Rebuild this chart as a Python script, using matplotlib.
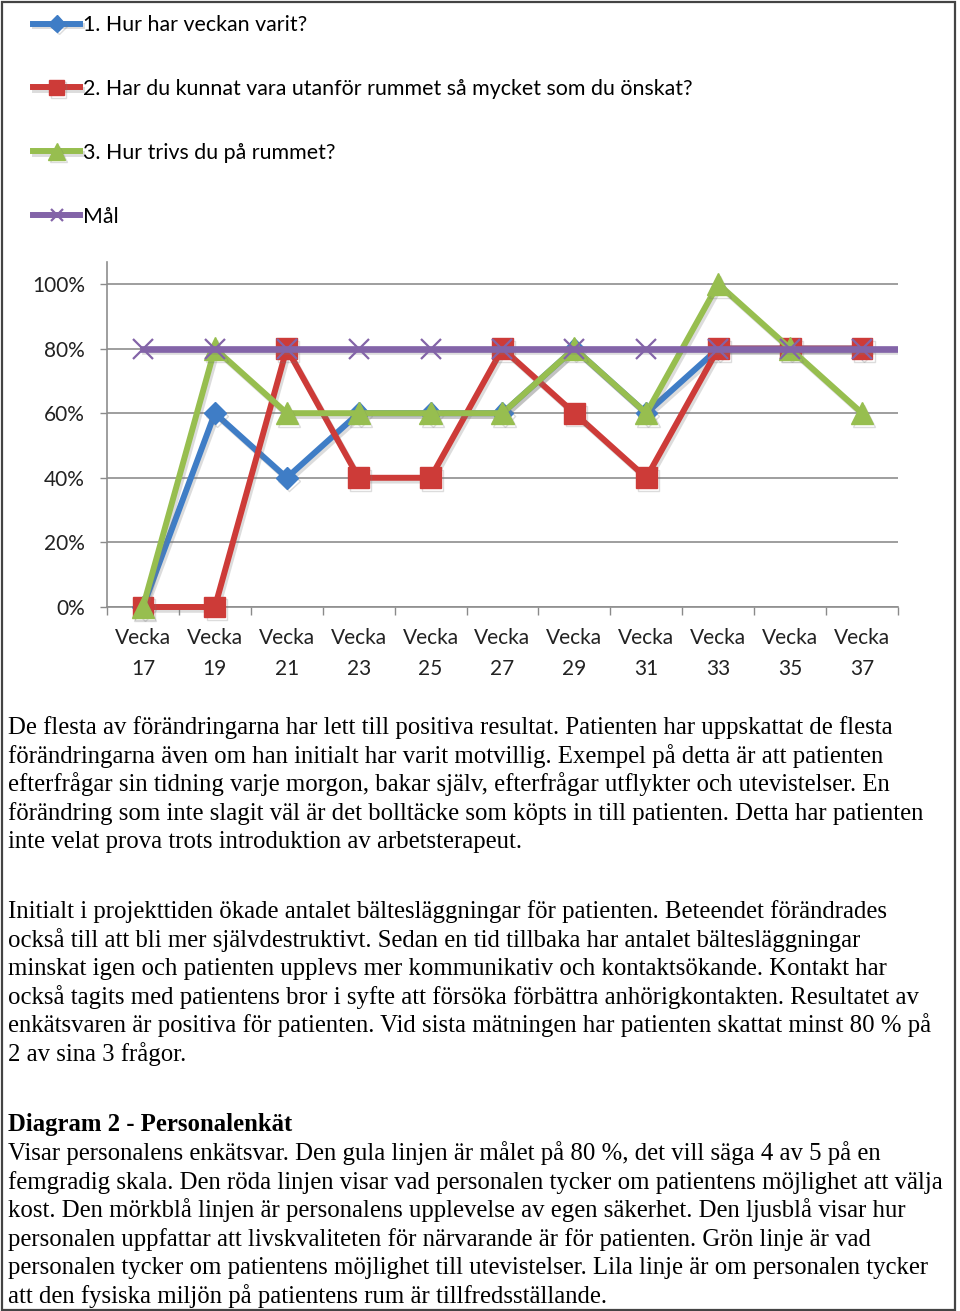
import numpy as np
import matplotlib
matplotlib.use("Agg")
import matplotlib.pyplot as plt
import matplotlib.patheffects as pe
from matplotlib.patches import Rectangle

# --- chart data -------------------------------------------------------------
weeks = ["Vecka\n17", "Vecka\n19", "Vecka\n21", "Vecka\n23", "Vecka\n25", "Vecka\n27",
         "Vecka\n29", "Vecka\n31", "Vecka\n33", "Vecka\n35", "Vecka\n37"]
q1_veckan = [0.0, 0.6, 0.4, 0.6, 0.6, 0.6, 0.8, 0.6, 0.8, 0.8, 0.8]
q2_utanfor = [0.0, 0.0, 0.8, 0.4, 0.4, 0.8, 0.6, 0.4, 0.8, 0.8, 0.8]
q3_trivs = [0.0, 0.8, 0.6, 0.6, 0.6, 0.6, 0.8, 0.6, 1.0, 0.8, 0.6]
mal = [0.8] * 11
labels = ["1. Hur har veckan varit?",
          "2. Har du kunnat vara utanför rummet så mycket som du önskat?",
          "3. Hur trivs du på rummet?",
          "Mål"]
yticks = [0.0, 0.2, 0.4, 0.6, 0.8, 1.0]
ytick_labels = ["0%", "20%", "40%", "60%", "80%", "100%"]

para1 = [
    "De flesta av förändringarna har lett till positiva resultat. Patienten har uppskattat de flesta",
    "förändringarna även om han initialt har varit motvillig. Exempel på detta är att patienten",
    "efterfrågar sin tidning varje morgon, bakar själv, efterfrågar utflykter och utevistelser. En",
    "förändring som inte slagit väl är det bolltäcke som köpts in till patienten. Detta har patienten",
    "inte velat prova trots introduktion av arbetsterapeut.",
]
para2 = [
    "Initialt i projekttiden ökade antalet bältesläggningar för patienten. Beteendet förändrades",
    "också till att bli mer självdestruktivt. Sedan en tid tillbaka har antalet bältesläggningar",
    "minskat igen och patienten upplevs mer kommunikativ och kontaktsökande. Kontakt har",
    "också tagits med patientens bror i syfte att försöka förbättra anhörigkontakten. Resultatet av",
    "enkätsvaren är positiva för patienten. Vid sista mätningen har patienten skattat minst 80 % på",
    "2 av sina 3 frågor.",
]
heading = "Diagram 2 - Personalenkät"
para3 = [
    "Visar personalens enkätsvar. Den gula linjen är målet på 80 %, det vill säga 4 av 5 på en",
    "femgradig skala. Den röda linjen visar vad personalen tycker om patientens möjlighet att välja",
    "kost. Den mörkblå linjen är personalens upplevelse av egen säkerhet. Den ljusblå visar hur",
    "personalen uppfattar att livskvaliteten för närvarande är för patienten. Grön linje är vad",
    "personalen tycker om patientens möjlighet till utevistelser. Lila linje är om personalen tycker",
    "att den fysiska miljön på patientens rum är tillfredsställande.",
]

W, H = 960, 1311
fig = plt.figure(figsize=(W / 100, H / 100), dpi=100)
fig.patch.set_facecolor("white")

# outer frame of the page crop
fig.add_artist(Rectangle((1.5 / W, 1.5 / H), 953.5 / W, (H - 3.5) / H, transform=fig.transFigure,
                         fill=False, edgecolor="#444444", lw=1.6))

ax = fig.add_axes([107 / W, (H - 607) / H, (898 - 107) / W, (607 - 262) / H])
x = np.arange(len(weeks))

shadow = [pe.SimpleLineShadow(offset=(1.5, -2), shadow_color="#777777", alpha=0.25), pe.Normal()]
common = dict(lw=4.3, path_effects=shadow, clip_on=False)
ax.plot(x, q1_veckan, color="#3F7DC6", marker="D", ms=11, label=labels[0], zorder=3, **common)
ax.plot(x, q2_utanfor, color="#CD3B38", marker="s", ms=15, label=labels[1], zorder=4, **common)
ax.plot(x, q3_trivs, color="#97BE4F", marker="^", ms=16, label=labels[2], zorder=5, **common)
# goal line runs on to the right edge of the plot area
ax.plot(np.append(x, x[-1] + 1), mal + [mal[-1]], color="#8364A8", lw=4.8, zorder=6,
        path_effects=shadow)
ax.plot(x, mal, color="#8364A8", lw=0, marker="x", ms=15, mew=1.6, zorder=6)
mal_handle = plt.Line2D([], [], color="#8364A8", lw=4.3, marker="x", ms=12, mew=1.6)

ax.set_xlim(-0.5, len(weeks) - 0.5)
ax.set_ylim(0, 1.068)
ax.set_yticks(yticks)
ax.set_yticklabels(ytick_labels)
ax.set_xticks(x)
ax.set_xticklabels(weeks, linespacing=1.7)
ax.set_xticks(np.arange(-0.5, len(weeks)), minor=True)
ax.tick_params(axis="x", which="major", length=0, pad=15, labelsize=15, labelcolor="#222222")
ax.tick_params(axis="x", which="minor", length=6, color="#8a8a8a", width=1)
ax.tick_params(axis="y", length=5, color="#8a8a8a", width=1, pad=11, labelsize=15,
               labelcolor="#222222")
for lab in ax.get_xticklabels() + ax.get_yticklabels():
    lab.set_family("Lato")
ax.grid(axis="y", color="#8e8e8e", lw=1.2)
ax.set_axisbelow(True)
for s in ("top", "right"):
    ax.spines[s].set_visible(False)
for s in ("left", "bottom"):
    ax.spines[s].set_color("#8e8e8e")
    ax.spines[s].set_linewidth(1.2)

handles = ax.get_legend_handles_labels()[0] + [mal_handle]
fig.legend(handles, labels, loc="upper left", bbox_to_anchor=(33 / W, 1 - 15 / H),
           frameon=False, borderpad=0, borderaxespad=0, handlelength=2.2, handletextpad=0.12,
           labelspacing=2.05, markerscale=0.75, prop={"family": "Lato", "size": 15.4})

# body text below the chart
serif = "Liberation Serif"
fs = 17.8
left = 8 / W
for i, line in enumerate(para1):
    fig.text(left, 1 - (734 + i * 28.6) / H, line, family=serif, fontsize=fs, va="baseline")
for i, line in enumerate(para2):
    fig.text(left, 1 - (918 + i * 28.6) / H, line, family=serif, fontsize=fs, va="baseline")
fig.text(left, 1 - 1131 / H, heading, family=serif, fontsize=fs, weight="bold", va="baseline")
for i, line in enumerate(para3):
    fig.text(left, 1 - (1160 + i * 28.6) / H, line, family=serif, fontsize=fs, va="baseline")

fig.savefig("out.png", dpi=100)
